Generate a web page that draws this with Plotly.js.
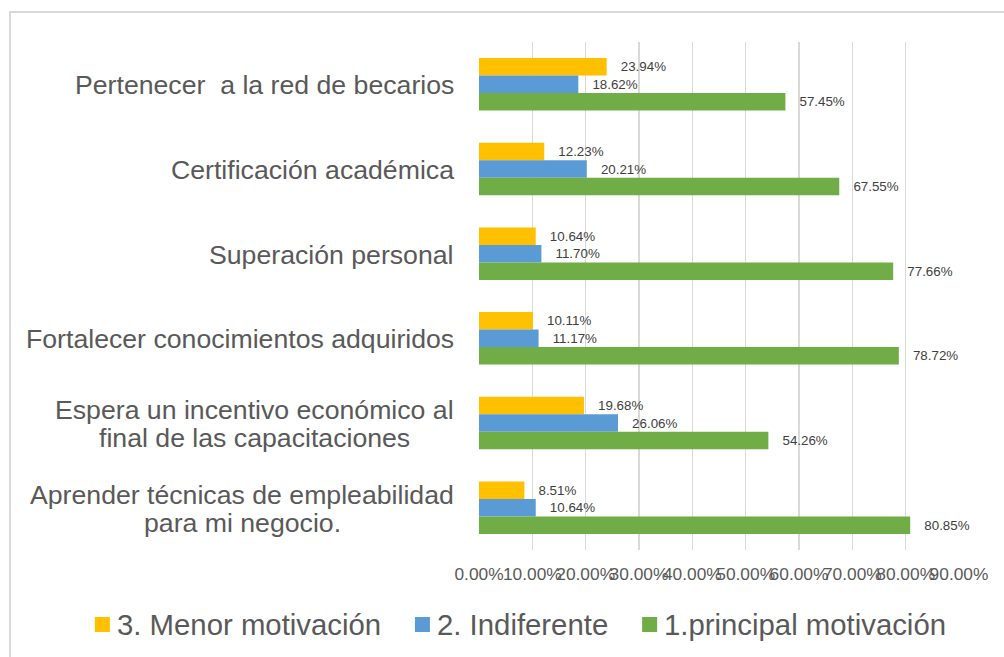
<!DOCTYPE html>
<html>
<head>
<meta charset="utf-8">
<script src="https://cdn.plot.ly/plotly-3.0.1.min.js"></script>
<style>
  html, body { margin: 0; padding: 0; background: #ffffff; }
  #chart { width: 1004px; height: 657px; }
</style>
</head>
<body>
<div id="chart"></div>
<script>
// ---- Data (top-to-bottom reading order) ----
const categories = [
  "Pertenecer \u00a0a la red de becarios",
  "Certificación académica",
  "Superación personal",
  "Fortalecer conocimientos adquiridos",
  "Espera un incentivo económico al\nfinal de las capacitaciones",
  "Aprender técnicas de empleabilidad\npara mi negocio."
];
const seriesNames = ["3. Menor motivación", "2. Indiferente", "1.principal motivación"];
const menorMotivacion     = [23.94, 12.23, 10.64, 10.11, 19.68, 8.51];
const indiferente         = [18.62, 20.21, 11.70, 11.17, 26.06, 10.64];
const principalMotivacion = [57.45, 67.55, 77.66, 78.72, 54.26, 80.85];
const tickValues = [0, 10, 20, 30, 40, 50, 60, 70, 80, 90];

// ---- Styles ----
const FONT = "Liberation Sans, Arial, sans-serif";
const colors = ["#FFC000", "#5B9BD5", "#70AD47"];
const labelSize = 26.67, tickSize = 17.33, dataLabelSize = 13.33, legendSize = 29.33;
const textGray = "#595959";

const yKeys = categories.map(c => c.replace("\n", " "));
const seriesValues = [menorMotivacion, indiferente, principalMotivacion];

const traces = seriesValues.map((vals, i) => ({
  type: "bar",
  orientation: "h",
  name: seriesNames[i],
  y: yKeys,
  x: vals,
  marker: { color: colors[i] },
  text: vals.map(v => "\u00a0\u00a0\u00a0" + v.toFixed(2) + "%"),
  texttemplate: "%{text}",
  textposition: "outside",
  textangle: 0,
  constraintext: "none",
  cliponaxis: false,
  textfont: { family: FONT, size: dataLabelSize, color: "#404040" },
  hoverinfo: "skip",
  showlegend: false
}));

// Geometry of plot area (pixels)
const W = 1004, H = 657;
const L = 479, R = 45, T = 42, B = 107;
const plotW = W - L - R, plotH = H - T - B;
const px2x = p => (p - L) / plotW;
const px2y = p => (T + plotH - p) / plotH;

const canvas = document.createElement("canvas");
const ctx = canvas.getContext("2d");

// Category labels as annotations (centered lines, right edge 25px left of axis)
ctx.font = labelSize + "px 'Liberation Sans'";
const lineGap = 28;
const annotations = [];
const shapes = [];
categories.forEach((c, k) => {
  const lines = c.split("\n");
  const maxW = Math.max(...lines.map(s => ctx.measureText(s).width));
  lines.forEach((s, j) => {
    annotations.push({
      xref: "paper", yref: "y",
      x: 0, y: yKeys[k],
      xshift: -25 - maxW / 2,
      yshift: ((lines.length - 1) / 2 - j) * lineGap - 1,
      xanchor: "center", yanchor: "middle",
      text: s, showarrow: false,
      font: { family: FONT, size: labelSize, color: textGray }
    });
  });
});

// Legend (square swatches + text), centred below the axis
ctx.font = legendSize + "px 'Liberation Sans'";
const swatch = 15, swGap = 6, itemGap = 35, legendCenter = 520, legendMid = 624;
const textWidths = seriesNames.map(s => ctx.measureText(s).width);
const totalW = textWidths.reduce((a, b) => a + b, 0) + seriesNames.length * (swatch + swGap) + (seriesNames.length - 1) * itemGap;
let cursor = legendCenter - totalW / 2;
seriesNames.forEach((name, i) => {
  shapes.push({
    type: "rect", xref: "paper", yref: "paper",
    x0: px2x(cursor), x1: px2x(cursor + swatch),
    y0: px2y(legendMid + 8), y1: px2y(legendMid + 8 - swatch),
    fillcolor: colors[i], line: { width: 0 }
  });
  cursor += swatch + swGap;
  annotations.push({
    xref: "paper", yref: "paper",
    x: px2x(cursor - 1), y: px2y(legendMid),
    xanchor: "left", yanchor: "middle",
    text: name, showarrow: false,
    font: { family: FONT, size: legendSize, color: textGray }
  });
  cursor += textWidths[i] + itemGap;
});

// Outer chart border (only top and left edges visible)
shapes.push({
  type: "rect", xref: "paper", yref: "paper",
  x0: px2x(10), x1: px2x(W + 50),
  y0: px2y(H + 50), y1: px2y(12),
  line: { color: "#d9d9d9", width: 2 }, layer: "below"
});

const layout = {
  width: W, height: H,
  margin: { l: L, r: R, t: T, b: B, pad: 0, autoexpand: false },
  paper_bgcolor: "#ffffff",
  plot_bgcolor: "#ffffff",
  barmode: "group",
  bargap: 0.38,
  bargroupgap: 0,
  showlegend: false,
  xaxis: {
    range: [0, 90],
    tickvals: tickValues,
    ticktext: tickValues.map(v => v.toFixed(2) + "%"),
    tickangle: 0,
    ticks: "",
    ticklabelstandoff: 12,
    showgrid: true,
    gridcolor: "#d9d9d9",
    gridwidth: 1.5,
    zeroline: false,
    showline: false,
    tickfont: { family: FONT, size: tickSize, color: textGray },
    fixedrange: true
  },
  yaxis: {
    type: "category",
    categoryorder: "array",
    categoryarray: yKeys,
    autorange: "reversed",
    showticklabels: false,
    ticks: "",
    showgrid: false,
    zeroline: false,
    showline: false,
    fixedrange: true
  },
  annotations: annotations,
  shapes: shapes
};

Plotly.newPlot("chart", traces, layout, { staticPlot: true, displayModeBar: false });
</script>
</body>
</html>
